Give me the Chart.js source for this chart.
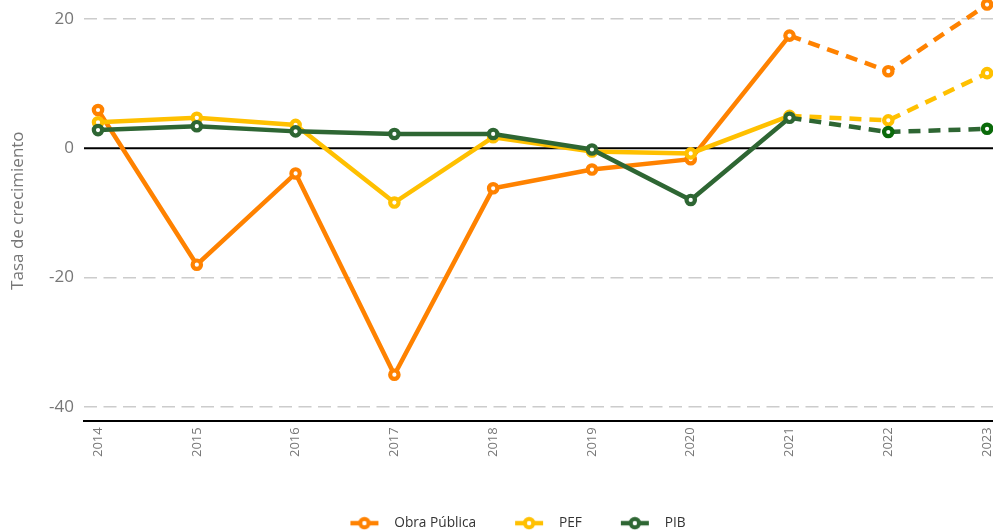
<!DOCTYPE html>
<html>
<head>
<meta charset="utf-8">
<script src="https://cdn.jsdelivr.net/npm/chart.js@4"></script>
<style>
html,body{margin:0;padding:0;background:#fff;}
#wrap{width:993px;height:532px;position:relative;}
</style>
</head>
<body>
<div id="wrap"><canvas id="c" width="993" height="532"></canvas></div>
<script>
const years = ['2014','2015','2016','2017','2018','2019','2020','2021','2022','2023'];
const obraPublica = [5.9, -18.0, -3.9, -35.0, -6.2, -3.3, -1.7, 17.4, 11.9, 22.2];
const pef = [4.0, 4.7, 3.6, -8.4, 1.7, -0.5, -0.8, 5.0, 4.3, 11.6];
const pib = [2.8, 3.4, 2.6, 2.2, 2.2, -0.2, -8.0, 4.7, 2.5, 3.0];
const yTicks = [-40, -20, 0, 20];
const seriesNames = ['Obra Pública', 'PEF', 'PIB'];
const firstProjected = '2021';

const colors = {orange:'#FF8200', yellow:'#FFC000', green:'#2E6633', greenProj:'#0A6A0A'};

function legendIcon(color){
  const c = document.createElement('canvas');
  c.width = 64; c.height = 14;
  const g = c.getContext('2d');
  g.strokeStyle = color; g.lineWidth = 4.5;
  g.beginPath(); g.moveTo(27,7); g.lineTo(55,7); g.stroke();
  g.beginPath(); g.arc(41,7,4.2,0,Math.PI*2);
  g.fillStyle = '#fff'; g.fill();
  g.lineWidth = 4; g.stroke();
  return c;
}

const projIdx = years.indexOf(firstProjected);
function mk(label, vals, color, order, projPointColor){
  return {
    label, order,
    data: years.map((y,i)=>({x:+y, y:vals[i]})),
    borderColor: color,
    backgroundColor: '#fff',
    borderWidth: 4.5,
    pointRadius: 4.2,
    pointBorderWidth: 4.2,
    pointBackgroundColor: '#fff',
    pointBorderColor: ctx => (projPointColor && ctx.dataIndex > projIdx) ? projPointColor : color,
    pointStyle: 'circle',
    clip: false,
    tension: 0,
    segment: { borderDash: ctx => ctx.p0DataIndex >= projIdx ? [12,8] : undefined },
    icon: legendIcon(color)
  };
}

const zeroLine = {
  id:'zeroLine',
  beforeDatasetsDraw(chart){
    const y = chart.scales.y.getPixelForValue(0);
    const a = chart.chartArea, g = chart.ctx;
    g.save(); g.strokeStyle='#000'; g.lineWidth=2;
    g.beginPath(); g.moveTo(a.left,y); g.lineTo(a.right,y); g.stroke(); g.restore();
  }
};
const legendShift = {
  id:'legendShift',
  afterLayout(chart){ if (chart.legend){ chart.legend.left += 8; chart.legend.right += 8; } }
};

new Chart(document.getElementById('c'), {
  type:'line',
  data:{ datasets:[
    mk(seriesNames[0], obraPublica, colors.orange, 3),
    mk(seriesNames[1], pef, colors.yellow, 2),
    mk(seriesNames[2], pib, colors.green, 1, colors.greenProj)
  ]},
  options:{
    responsive:false, animation:false,
    events:[],
    layout:{autoPadding:false, padding:{top:0,left:0,right:0,bottom:-8}},
    plugins:{
      tooltip:{enabled:false},
      legend:{
        position:'bottom',
        labels:{
          usePointStyle:true,
          pointStyleWidth:64,
          padding:12,
          color:'#333',
          font:{family:'Open Sans', size:13.7},
          sort:(a,b)=>a.datasetIndex-b.datasetIndex,
          generateLabels(chart){
            return chart.data.datasets.map((d,i)=>({
              text:d.label, datasetIndex:i, pointStyle:d.icon,
              fillStyle:'#fff', strokeStyle:d.borderColor, lineWidth:0, fontColor:'#333'
            }));
          }
        }
      }
    },
    scales:{
      x:{
        type:'linear',
        min: +years[0] - 0.142,
        max: +years[years.length-1] + 0.06,
        afterBuildTicks(s){ s.ticks = years.map(y=>({value:+y})); },
        afterFit(s){ s.height = 83; s.paddingLeft = 0; s.paddingRight = 0; },
        ticks:{
          autoSkip:false, minRotation:90, maxRotation:90,
          color:'#777', font:{family:'Open Sans', size:13}, padding:6,
          callback:v=>String(v)
        },
        grid:{display:false, drawTicks:false},
        border:{display:true, color:'#000', width:2}
      },
      y:{
        min:-42.2, max:22.9,
        afterBuildTicks(s){ s.ticks = yTicks.map(v=>({value:v})); },
        afterFit(s){ s.width = 84; s.paddingTop = 0; s.paddingBottom = 0; },
        ticks:{ color:'#777', font:{family:'Open Sans', size:17}, padding:10 },
        grid:{
          drawTicks:false,
          color: ctx => ctx.tick && ctx.tick.value === 0 ? 'rgba(0,0,0,0)' : '#cccccc',
          lineWidth:1.5
        },
        border:{display:false, dash:[13,6.5]},
        title:{display:true, text:'Tasa de crecimiento', color:'#777', font:{family:'Open Sans', size:17}, padding:{top:8,bottom:0}}
      }
    }
  },
  plugins:[zeroLine, legendShift]
});
</script>
</body>
</html>
